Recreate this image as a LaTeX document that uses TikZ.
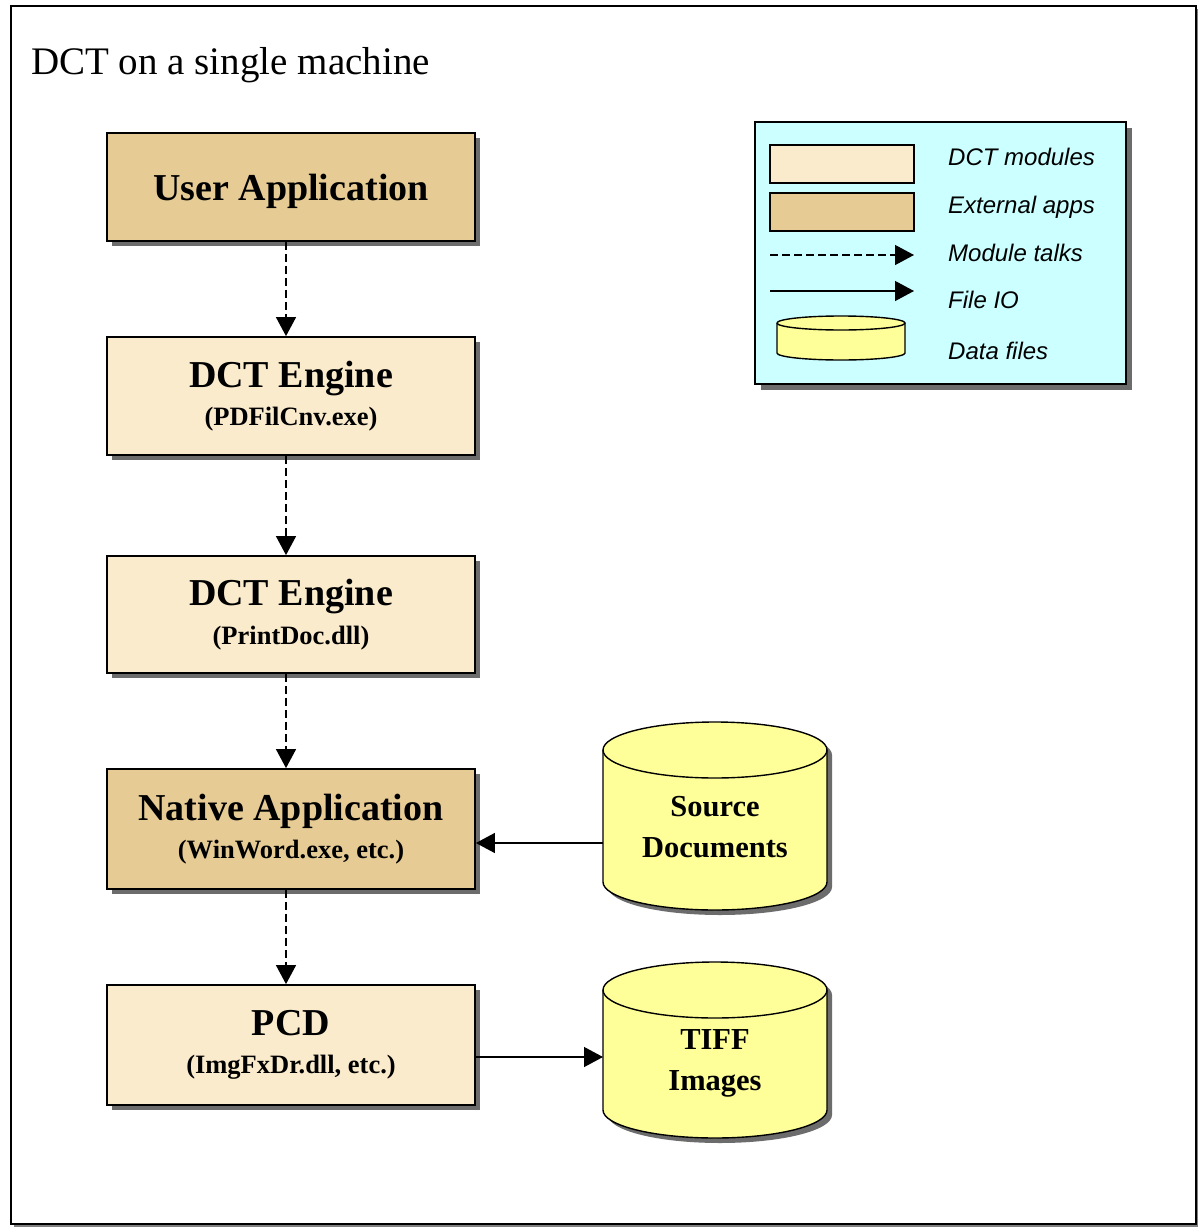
\documentclass[tikz,border=0pt]{standalone}
\usepackage{fontspec}
\setmainfont{Liberation Serif}
\setsansfont{Liberation Sans}
\usetikzlibrary{arrows.meta,shadows}
\definecolor{dctlight}{HTML}{FAEBCD}
\definecolor{dctdark}{HTML}{E6CB94}
\definecolor{fileyellow}{HTML}{FFFF99}
\definecolor{legendbg}{HTML}{CCFFFF}
% data file drum: x centre, top, bottom, x radius, y radius
\newcommand{\datafile}[5]{%
	\filldraw[dat] ({#1-#4},{#2+#5}) -- ({#1-#4},{#3-#5})
		arc[start angle=180, end angle=360, x radius=#4pt, y radius=#5pt]
		-- ({#1+#4},{#2+#5})
		arc[start angle=0, end angle=180, x radius=#4pt, y radius=#5pt] -- cycle;
	\draw[datrim] ({#1-#4},{#2+#5}) arc[start angle=180, end angle=360, x radius=#4pt, y radius=#5pt];
}
\begin{document}
\begin{tikzpicture}[x=1pt, y=-1pt,
		sh/.style = {drop shadow={shadow xshift=5pt, shadow yshift=-5pt, fill=gray!85!black, opacity=1}},
		mod/.style = {rectangle, draw=black, line width=1.8pt, fill=dctlight, minimum width=368pt, align=center, inner sep=0pt, sh, font=\fontsize{26.5}{38.5}\selectfont\bfseries},
		ext/.style = {mod, fill=dctdark},
		dat/.style = {draw=black, line width=1.4pt, fill=fileyellow, sh},
		datrim/.style = {draw=black, line width=1.4pt},
		dtxt/.style = {align=center, inner sep=0pt, font=\fontsize{30.5}{41}\selectfont\bfseries},
		talk/.style = {-{Triangle[length=19pt,width=20pt]}, line width=1.3pt, dash pattern=on 8pt off 4pt},
		io/.style = {-{Triangle[length=19pt,width=20pt]}, line width=1.3pt},
		lg/.style = {anchor=base west, inner sep=0pt, font=\sffamily\itshape\fontsize{24}{24}\selectfont}
		]
		\useasboundingbox (0,0) rectangle (1198,1228);
		
		%Frame
		\node[draw=black, line width=1.8pt, fill=white, minimum width=1185pt, minimum height=1218pt, inner sep=0pt,
			drop shadow={shadow xshift=3pt, shadow yshift=-3pt, fill=gray, opacity=1}] (fr) at (603.5,615) {};
		\node[anchor=base west, inner sep=0pt, font=\fontsize{39}{39}\selectfont] (ttl) at (31,75) {DCT on a single machine};
		
		%Nodes
		\node[ext, minimum height=108pt, text depth=0pt]	(ua)	at	(291, 187)	{{\fontsize{38}{38.5}\selectfont User Application}};
		\node[mod, minimum height=118pt]	(e1)	at	(291, 396)	{{\fontsize{38}{38.5}\selectfont DCT Engine}\\(PDFilCnv.exe)};
		\node[mod, minimum height=117pt]	(e2)	at	(291, 614.5)	{{\fontsize{38}{38.5}\selectfont DCT Engine}\\(PrintDoc.dll)};
		\node[ext, minimum height=120pt]	(na)	at	(291, 829)	{{\fontsize{38}{38.5}\selectfont Native Application}\\(WinWord.exe, etc.)};
		\node[mod, minimum height=120pt]	(pcd)	at	(291, 1045)	{{\fontsize{38}{38.5}\selectfont PCD}\\(ImgFxDr.dll, etc.)};
		
		%Data files
		\datafile{715}{722}{910}{112}{28}
		\datafile{715}{962}{1138}{112}{28}
		\node[dtxt]	(src)	at	(715, 827)	{Source\\Documents};
		\node[dtxt]	(tif)	at	(715, 1063)	{TIFF\\Images};
		\coordinate (srcw) at (603, 843);
		\coordinate (tifw) at (603, 1057);
		
		%Lines
		\draw[talk]	([xshift=-5pt]ua.south)	--	([xshift=-5pt]e1.north);
		\draw[talk]	([xshift=-5pt]e1.south)	--	([xshift=-5pt]e2.north);
		\draw[talk]	([xshift=-5pt]e2.south)	--	([xshift=-5pt]na.north);
		\draw[talk]	([xshift=-5pt]na.south)	--	([xshift=-5pt]pcd.north);
		\draw[io]	(srcw)	--	(na.east |- srcw);
		\draw[io]	(pcd.east |- tifw)	--	(tifw);
		
		%Legend
		\node[draw=black, line width=1.8pt, fill=legendbg, minimum width=371pt, minimum height=262pt, inner sep=0pt,
			drop shadow={shadow xshift=6pt, shadow yshift=-6pt, fill=gray!85!black, opacity=1}] (leg) at (940.5, 253) {};
		\node[draw=black, line width=1.3pt, fill=dctlight, minimum width=144pt, minimum height=38pt, inner sep=0pt] (lm) at (842, 164) {};
		\node[draw=black, line width=1.3pt, fill=dctdark, minimum width=144pt, minimum height=38pt, inner sep=0pt] (lx) at (842, 212) {};
		\coordinate (t1) at (770, 255);
		\coordinate (t2) at (914, 255);
		\coordinate (f1) at (770, 291);
		\coordinate (f2) at (914, 291);
		\draw[talk]	(t1)	--	(t2);
		\draw[io]	(f1)	--	(f2);
		\begin{scope}[sh/.style={}]
			\datafile{841}{316}{360}{64}{7}
		\end{scope}
		\node[lg]	(lt1)	at	(948, 165.5)	{DCT modules};
		\node[lg]	(lt2)	at	(948, 213.5)	{External apps};
		\node[lg]	(lt3)	at	(948, 261.5)	{Module talks};
		\node[lg]	(lt4)	at	(948, 308.5)	{File IO};
		\node[lg]	(lt5)	at	(948, 359.5)	{Data files};
	\end{tikzpicture}
\end{document}
